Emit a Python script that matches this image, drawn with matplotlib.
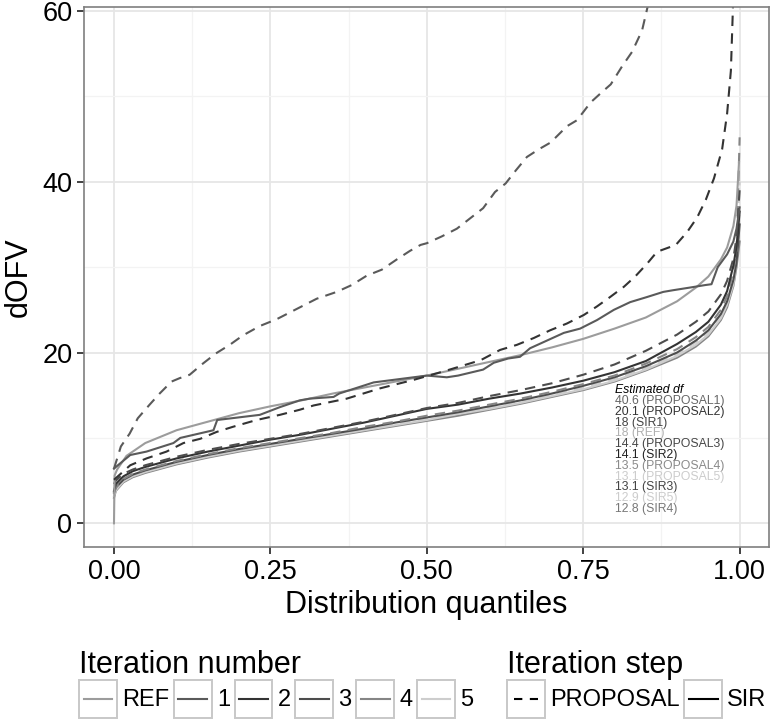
import numpy as np
import matplotlib
matplotlib.use('Agg')
import matplotlib.pyplot as plt
from matplotlib.lines import Line2D
from matplotlib.patches import Rectangle
from matplotlib.legend_handler import HandlerBase

plt.rcParams['font.family'] = ['Liberation Sans', 'DejaVu Sans']

# ---- data (quantile, dOFV) ----
q_ref = [0, 0.001, 0.005, 0.02, 0.05, 0.1, 0.15, 0.2, 0.25, 0.3, 0.35, 0.4, 0.45, 0.5, 0.55, 0.6,
         0.65, 0.7, 0.75, 0.8, 0.85, 0.9, 0.93, 0.95, 0.97, 0.98, 0.99, 0.995, 0.999]
dofv_ref = [0, 5.6, 6.3, 7.9, 9.4, 10.9, 11.9, 12.9, 13.7, 14.4, 15.2, 15.9, 16.6, 17.3, 18.1, 18.9,
            19.7, 20.6, 21.6, 22.8, 24.1, 26.0, 27.6, 28.9, 30.9, 32.3, 34.8, 37.2, 42.3]

q_p1 = [0, 0.011, 0.025, 0.038, 0.057, 0.073, 0.092, 0.105, 0.121, 0.142, 0.163, 0.185, 0.206, 0.233,
        0.26, 0.284, 0.324, 0.356, 0.38, 0.404, 0.428, 0.452, 0.473, 0.49, 0.5, 0.524, 0.548, 0.569,
        0.59, 0.609, 0.626, 0.642, 0.66, 0.679, 0.698, 0.724, 0.74, 0.762, 0.78, 0.794, 0.812, 0.828,
        0.844, 0.852, 0.87]
dofv_p1 = [6.4, 9.0, 10.5, 12.3, 13.9, 15.2, 16.6, 17.0, 17.4, 18.7, 19.9, 20.9, 22.0, 23.1,
           23.9, 24.8, 26.3, 27.1, 27.9, 29.0, 29.7, 30.9, 31.9, 32.6, 32.8, 33.6, 34.5, 35.7,
           36.9, 38.8, 39.8, 41.3, 42.9, 43.8, 44.6, 46.5, 47.2, 49.3, 50.5, 51.4, 53.5, 55.2,
           57.7, 60.2, 66.0]

q_sir1 = [0, 0.003, 0.026, 0.052, 0.095, 0.106, 0.159, 0.165, 0.233, 0.265, 0.297, 0.313, 0.351,
          0.36, 0.415, 0.5, 0.532, 0.55, 0.59, 0.607, 0.63, 0.649, 0.665, 0.692, 0.719, 0.745,
          0.772, 0.799, 0.825, 0.852, 0.878, 0.894, 0.92, 0.945, 0.955, 0.965, 0.98, 0.99, 0.995, 1.0]
dofv_sir1 = [6.4, 6.6, 8.0, 8.4, 9.4, 10.0, 10.9, 12.1, 12.7, 13.6, 14.4, 14.6, 14.8,
             15.2, 16.5, 17.3, 17.1, 17.3, 18.0, 18.8, 19.3, 19.5, 20.5, 21.4, 22.3, 22.8,
             23.8, 25.0, 25.9, 26.5, 27.1, 27.3, 27.6, 27.9, 28.0, 30.0, 31.5, 33.0, 34.5, 37.0]

q_p2 = [0, 0.026, 0.052, 0.084, 0.111, 0.138, 0.164, 0.19, 0.228, 0.265, 0.297, 0.319, 0.372,
        0.425, 0.479, 0.532, 0.586, 0.617, 0.644, 0.671, 0.697, 0.724, 0.751, 0.772, 0.793, 0.815,
        0.833, 0.852, 0.868, 0.898, 0.916, 0.932, 0.946, 0.959, 0.972, 0.98, 0.986, 0.99]
dofv_p2 = [5.1, 6.8, 7.6, 8.4, 9.4, 9.9, 10.7, 11.3, 12.1, 12.7, 13.3, 13.8, 14.6,
           15.8, 16.8, 17.9, 19.1, 20.3, 20.9, 21.7, 22.6, 23.4, 24.4, 25.4, 26.5, 27.7,
           28.9, 30.4, 31.8, 32.6, 34.1, 35.8, 37.9, 40.4, 43.8, 48.0, 53.0, 62.0]

# lower cluster shares one quantile grid
q_low = [0, 0.003, 0.015, 0.03, 0.05, 0.1, 0.15, 0.2, 0.25, 0.3, 0.35, 0.4, 0.45, 0.5, 0.55, 0.6,
         0.65, 0.7, 0.75, 0.8, 0.85, 0.9, 0.93, 0.95, 0.97, 0.98, 0.99, 0.995, 1.0]
dofv_p3 = [4.6, 5.0, 5.8, 6.3, 6.8, 7.8, 8.6, 9.3, 9.9, 10.5, 11.2, 11.9, 12.7, 13.5, 14.1, 14.9,
           15.6, 16.4, 17.4, 18.6, 20.2, 22.1, 23.6, 24.8, 26.8, 28.4, 31.0, 33.5, 39.0]
dofv_sir2 = [3.8, 4.6, 5.5, 6.1, 6.6, 7.6, 8.4, 9.1, 9.8, 10.4, 11.1, 11.8, 12.6, 13.4, 13.9, 14.6,
             15.2, 15.9, 16.7, 17.7, 19.0, 21.0, 22.4, 23.6, 25.6, 27.2, 30.2, 32.4, 36.5]
dofv_p4 = [3.5, 4.2, 5.2, 5.8, 6.3, 7.3, 8.1, 8.8, 9.4, 10.0, 10.6, 11.3, 11.9, 12.6, 13.2, 13.9,
           14.6, 15.4, 16.3, 17.3, 18.7, 20.4, 21.8, 23.0, 25.0, 26.6, 29.5, 32.0, 45.2]
dofv_p5 = [3.3, 4.0, 5.0, 5.6, 6.1, 7.1, 7.9, 8.6, 9.2, 9.8, 10.4, 11.0, 11.6, 12.3, 12.9, 13.6,
           14.3, 15.0, 15.9, 16.9, 18.2, 19.8, 21.2, 22.4, 24.4, 25.9, 28.5, 31.0, 40.0]
dofv_sir3 = [3.6, 4.2, 5.1, 5.7, 6.2, 7.2, 8.0, 8.7, 9.3, 9.9, 10.5, 11.1, 11.8, 12.4, 13.0, 13.7,
             14.4, 15.2, 16.1, 17.1, 18.4, 20.0, 21.4, 22.6, 24.5, 26.0, 28.5, 30.5, 35.0]
dofv_sir5 = [3.2, 3.9, 4.9, 5.5, 6.0, 7.0, 7.8, 8.5, 9.1, 9.7, 10.3, 10.9, 11.5, 12.1, 12.8, 13.4,
             14.1, 14.9, 15.7, 16.7, 18.0, 19.6, 20.9, 22.1, 24.0, 25.6, 28.0, 30.5, 36.0]
dofv_sir4 = [3.0, 3.8, 4.8, 5.4, 5.9, 6.9, 7.7, 8.4, 9.0, 9.6, 10.2, 10.8, 11.4, 12.0, 12.6, 13.3,
             14.0, 14.8, 15.6, 16.6, 17.9, 19.4, 20.7, 21.9, 23.8, 25.3, 27.8, 30.0, 33.0]

iterations = ['REF', '1', '2', '3', '4', '5']
steps = ['PROPOSAL', 'SIR']
df_labels = ['40.6 (PROPOSAL1)', '20.1 (PROPOSAL2)', '18 (SIR1)', '18 (REF)', '14.4 (PROPOSAL3)',
             '14.1 (SIR2)', '13.5 (PROPOSAL4)', '13.1 (PROPOSAL5)', '13.1 (SIR3)', '12.9 (SIR5)',
             '12.8 (SIR4)']

# ---- styles ----
iter_col = {'REF': '#9c9c9c', '1': '#5a5a5a', '2': '#333333', '3': '#4d4d4d', '4': '#858585', '5': '#cdcdcd'}
label_col = ['#666666', '#333333', '#444444', '#b0b0b0', '#474747', '#222222', '#8a8a8a',
             '#cccccc', '#444444', '#cccccc', '#777777']
LW = 1.5
DASH = (0, (5, 3.5))

series = [
    (q_low, dofv_sir4, '4', 'SIR'), (q_low, dofv_sir5, '5', 'SIR'), (q_low, dofv_p5, '5', 'PROPOSAL'),
    (q_low, dofv_sir3, '3', 'SIR'), (q_low, dofv_p4, '4', 'PROPOSAL'), (q_low, dofv_sir2, '2', 'SIR'),
    (q_low, dofv_p3, '3', 'PROPOSAL'), (q_ref, dofv_ref, 'REF', 'SIR'), (q_sir1, dofv_sir1, '1', 'SIR'),
    (q_p2, dofv_p2, '2', 'PROPOSAL'), (q_p1, dofv_p1, '1', 'PROPOSAL'),
]

fig = plt.figure(figsize=(7.74, 7.24), dpi=100)
ax = fig.add_axes([0.1079, 0.2438, 0.8857, 0.7470])

for qx, yv, it, st in series:
    ax.plot(qx, yv, color=iter_col[it], lw=LW,
            linestyle=DASH if st == 'PROPOSAL' else '-', solid_joinstyle='round')

# annotation block
ax.text(0.801, 15.6, 'Estimated df', style='italic', fontsize=8.8, color='black', va='center')
for i, (lab, c) in enumerate(zip(df_labels, label_col)):
    ax.text(0.801, 15.6 - 1.265 * (i + 1), lab, fontsize=8.8, color=c, va='center')

ax.set_xlim(-0.0487, 1.047)
ax.set_ylim(-2.83, 60.5)
ax.set_xticks([0, 0.25, 0.5, 0.75, 1.0])
ax.set_xticklabels(['0.00', '0.25', '0.50', '0.75', '1.00'])
ax.set_yticks([0, 20, 40, 60])
ax.set_xticks([0.125, 0.375, 0.625, 0.875], minor=True)
ax.set_yticks([10, 30, 50], minor=True)
ax.grid(which='major', color='#e6e6e6', lw=1.3)
ax.grid(which='minor', color='#f3f3f3', lw=0.9)
ax.set_axisbelow(True)
for s in ax.spines.values():
    s.set_color('#7f7f7f')
    s.set_linewidth(1.2)
ax.tick_params(which='major', length=5, width=1.3, color='#333333', labelsize=19.5, labelcolor='black', pad=3)
ax.tick_params(which='minor', length=0)
ax.set_xlabel('Distribution quantiles', fontsize=22, labelpad=4)
ax.set_ylabel('dOFV', fontsize=22, labelpad=6)


# legend keys drawn as small boxes like ggplot
class KeyBox(HandlerBase):
    def create_artists(self, legend, orig, xd, yd, width, height, fontsize, trans):
        box = Rectangle((-xd, -yd), width, height, facecolor='white', edgecolor='#c8c8c8', lw=1.4,
                        transform=trans)
        dashed = orig.get_linestyle() == '--'
        f0, f1 = (0.19, 0.81) if dashed else (0.12, 0.88)
        ln = Line2D([-xd + f0 * width, -xd + f1 * width], [-yd + height / 2] * 2,
                    color=orig.get_color(), lw=LW, linestyle=orig.get_linestyle(), transform=trans)
        if dashed:
            ln.set_dashes((4, 3.6))
        return [box, ln]


h_iter = [Line2D([], [], color=iter_col[i], lw=LW) for i in iterations]
h_step = [Line2D([], [], color='black', lw=LW, linestyle='--'), Line2D([], [], color='black', lw=LW)]
common = dict(loc='upper left', frameon=False, fontsize=17, title_fontsize=22, alignment='left',
              handlelength=1.6, handleheight=2.1, handletextpad=0.22, columnspacing=0.2,
              borderpad=0, borderaxespad=0, labelspacing=0)
leg1 = fig.legend(h_iter, iterations, ncol=6, title='Iteration number',
                  bbox_to_anchor=(79 / 774, 1 - 650 / 724), handler_map={Line2D: KeyBox()}, **common)
leg2 = fig.legend(h_step, steps, ncol=2, title='Iteration step',
                  bbox_to_anchor=(507 / 774, 1 - 650 / 724), handler_map={Line2D: KeyBox()}, **common)

fig.savefig('out.png', dpi=100)
